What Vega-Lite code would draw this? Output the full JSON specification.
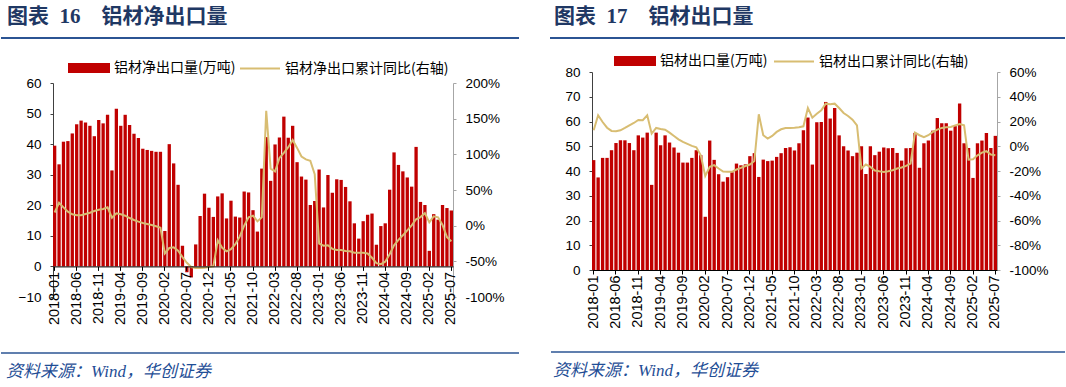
{
"$schema": "https://vega.github.io/schema/vega-lite/v6.json",
"padding": {"left": 0, "top": 6, "right": 0, "bottom": 0},
"autosize": {"type": "pad"},
"spacing": 29,
"resolve": {"scale": {"color": "independent"}, "legend": {"color": "independent"}},
"config": {
  "view": {"stroke": null},
  "font": "Liberation Sans",
  "legend": {"labelLimit": 400}
},
"datasets": {
"net": [
{"m":"2018-01","v":39.5,"yoy":18.5},{"m":"2018-02","v":33.4,"yoy":32},{"m":"2018-03","v":40.8,"yoy":25.7},{"m":"2018-04","v":41.0,"yoy":19.6},{"m":"2018-05","v":43.5,"yoy":15.9},{"m":"2018-06","v":46.5,"yoy":14.5},{"m":"2018-07","v":47.7,"yoy":14.5},{"m":"2018-08","v":47.1,"yoy":16.4},{"m":"2018-09","v":46.0,"yoy":18.2},{"m":"2018-10","v":42.6,"yoy":20.6},{"m":"2018-11","v":47.9,"yoy":22.4},{"m":"2018-12","v":46.8,"yoy":23.4},
{"m":"2019-01","v":49.6,"yoy":25.7},{"m":"2019-02","v":31.4,"yoy":11.2},{"m":"2019-03","v":51.6,"yoy":17.3},{"m":"2019-04","v":46.0,"yoy":15.9},{"m":"2019-05","v":49.6,"yoy":14.0},{"m":"2019-06","v":46.3,"yoy":10.7},{"m":"2019-07","v":43.4,"yoy":7.9},{"m":"2019-08","v":42.0,"yoy":5.6},{"m":"2019-09","v":38.5,"yoy":3.7},{"m":"2019-10","v":38.1,"yoy":2.3},{"m":"2019-11","v":37.8,"yoy":0.9},{"m":"2019-12","v":37.5,"yoy":-0.9},
{"m":"2020-01","v":37.5,"yoy":-2.8},{"m":"2020-02","v":11.6,"yoy":-38.8},{"m":"2020-03","v":40.0,"yoy":-31.3},{"m":"2020-04","v":33.7,"yoy":-30.4},{"m":"2020-05","v":26.7,"yoy":-35},{"m":"2020-06","v":6.8,"yoy":-44},{"m":"2020-07","v":-1.9,"yoy":-52},{"m":"2020-08","v":-3.6,"yoy":-58},{"m":"2020-09","v":7.2,"yoy":-59.5},{"m":"2020-10","v":16.5,"yoy":-59.5},{"m":"2020-11","v":23.8,"yoy":-59},{"m":"2020-12","v":19.2,"yoy":-58},
{"m":"2021-01","v":16.2,"yoy":-57},{"m":"2021-02","v":22.9,"yoy":-20.6},{"m":"2021-03","v":23.9,"yoy":-31},{"m":"2021-04","v":15.7,"yoy":-36},{"m":"2021-05","v":21.5,"yoy":-33},{"m":"2021-06","v":16.3,"yoy":-26},{"m":"2021-07","v":16.0,"yoy":-15},{"m":"2021-08","v":24.5,"yoy":0},{"m":"2021-09","v":24.2,"yoy":11.7},{"m":"2021-10","v":18.4,"yoy":14},{"m":"2021-11","v":11.4,"yoy":6},{"m":"2021-12","v":32.0,"yoy":11.7},
{"m":"2022-01","v":42.3,"yoy":161},{"m":"2022-02","v":28.0,"yoy":80},{"m":"2022-03","v":39.9,"yoy":76},{"m":"2022-04","v":42.2,"yoy":95},{"m":"2022-05","v":49.0,"yoy":102},{"m":"2022-06","v":42.1,"yoy":110},{"m":"2022-07","v":46.0,"yoy":120},{"m":"2022-08","v":34.1,"yoy":109},{"m":"2022-09","v":29.4,"yoy":97},{"m":"2022-10","v":28.4,"yoy":93},{"m":"2022-11","v":20.1,"yoy":91},{"m":"2022-12","v":21.4,"yoy":72},
{"m":"2023-01","v":31.7,"yoy":-25},{"m":"2023-02","v":19.3,"yoy":-28},{"m":"2023-03","v":29.9,"yoy":-27.5},{"m":"2023-04","v":24.1,"yoy":-32.5},{"m":"2023-05","v":28.5,"yoy":-34},{"m":"2023-06","v":28.3,"yoy":-34},{"m":"2023-07","v":26.0,"yoy":-35.5},{"m":"2023-08","v":21.3,"yoy":-36},{"m":"2023-09","v":14.1,"yoy":-38},{"m":"2023-10","v":9.1,"yoy":-38},{"m":"2023-11","v":14.8,"yoy":-38},{"m":"2023-12","v":16.9,"yoy":-39},
{"m":"2024-01","v":17.3,"yoy":-45},{"m":"2024-02","v":7.1,"yoy":-52.5},{"m":"2024-03","v":13.2,"yoy":-54},{"m":"2024-04","v":14.1,"yoy":-50.5},{"m":"2024-05","v":25.1,"yoy":-40},{"m":"2024-06","v":37.3,"yoy":-27.5},{"m":"2024-07","v":33.2,"yoy":-20},{"m":"2024-08","v":31.1,"yoy":-13.5},{"m":"2024-09","v":29.1,"yoy":-6.5},{"m":"2024-10","v":26.1,"yoy":0.5},{"m":"2024-11","v":39.1,"yoy":9},{"m":"2024-12","v":21.1,"yoy":12},
{"m":"2025-01","v":20.1,"yoy":17.5},{"m":"2025-02","v":5.1,"yoy":4.7},{"m":"2025-03","v":17.1,"yoy":13},{"m":"2025-04","v":15.3,"yoy":11.7},{"m":"2025-05","v":20.1,"yoy":1},{"m":"2025-06","v":19.1,"yoy":-16},{"m":"2025-07","v":18.3,"yoy":-22}
],
"exp": [
{"m":"2018-01","v":44.4,"yoy":12.9},{"m":"2018-02","v":37.4,"yoy":25},{"m":"2018-03","v":45.3,"yoy":19.6},{"m":"2018-04","v":45.3,"yoy":15},{"m":"2018-05","v":48.4,"yoy":12.4},{"m":"2018-06","v":51.3,"yoy":12.1},{"m":"2018-07","v":52.4,"yoy":12.9},{"m":"2018-08","v":52.4,"yoy":14.8},{"m":"2018-09","v":51.3,"yoy":16.9},{"m":"2018-10","v":48.4,"yoy":18.8},{"m":"2018-11","v":54.4,"yoy":21.2},{"m":"2018-12","v":53.5,"yoy":21},
{"m":"2019-01","v":55.5,"yoy":25},{"m":"2019-02","v":34.4,"yoy":10.2},{"m":"2019-03","v":55.5,"yoy":14.8},{"m":"2019-04","v":50.4,"yoy":14},{"m":"2019-05","v":54.4,"yoy":13.4},{"m":"2019-06","v":51.5,"yoy":11},{"m":"2019-07","v":49.5,"yoy":8.3},{"m":"2019-08","v":47.4,"yoy":5.6},{"m":"2019-09","v":43.4,"yoy":3.5},{"m":"2019-10","v":43.4,"yoy":1.9},{"m":"2019-11","v":45.3,"yoy":0.3},{"m":"2019-12","v":48.4,"yoy":-0.8},
{"m":"2020-01","v":46.4,"yoy":-7.3},{"m":"2020-02","v":21.5,"yoy":-24},{"m":"2020-03","v":52.3,"yoy":-16.7},{"m":"2020-04","v":44.5,"yoy":-15.3},{"m":"2020-05","v":38.7,"yoy":-18},{"m":"2020-06","v":35.7,"yoy":-20.5},{"m":"2020-07","v":37.5,"yoy":-20.7},{"m":"2020-08","v":39.5,"yoy":-20.7},{"m":"2020-09","v":43.0,"yoy":-18.8},{"m":"2020-10","v":42.3,"yoy":-17.5},{"m":"2020-11","v":42.7,"yoy":-16},{"m":"2020-12","v":46.0,"yoy":-14.8},
{"m":"2021-01","v":47.2,"yoy":-12},{"m":"2021-02","v":37.6,"yoy":25.8},{"m":"2021-03","v":44.6,"yoy":8.9},{"m":"2021-04","v":44.0,"yoy":6.2},{"m":"2021-05","v":44.2,"yoy":8.3},{"m":"2021-06","v":45.7,"yoy":11.6},{"m":"2021-07","v":47.2,"yoy":13.7},{"m":"2021-08","v":49.3,"yoy":14.8},{"m":"2021-09","v":49.6,"yoy":14.8},{"m":"2021-10","v":48.3,"yoy":15},{"m":"2021-11","v":51.2,"yoy":15.3},{"m":"2021-12","v":56.5,"yoy":16.1},
{"m":"2022-01","v":61.6,"yoy":30.9},{"m":"2022-02","v":42.6,"yoy":23.1},{"m":"2022-03","v":59.7,"yoy":26.3},{"m":"2022-04","v":59.8,"yoy":29},{"m":"2022-05","v":67.9,"yoy":34.4},{"m":"2022-06","v":61.2,"yoy":33.9},{"m":"2022-07","v":65.5,"yoy":34.4},{"m":"2022-08","v":54.4,"yoy":30.9},{"m":"2022-09","v":50.0,"yoy":26.9},{"m":"2022-10","v":48.3,"yoy":24.5},{"m":"2022-11","v":46.0,"yoy":21.5},{"m":"2022-12","v":47.4,"yoy":16.9},
{"m":"2023-01","v":50.0,"yoy":-18},{"m":"2023-02","v":38.8,"yoy":-14.8},{"m":"2023-03","v":50.0,"yoy":-16.7},{"m":"2023-04","v":46.4,"yoy":-19.6},{"m":"2023-05","v":47.8,"yoy":-20.2},{"m":"2023-06","v":49.5,"yoy":-20.7},{"m":"2023-07","v":49.2,"yoy":-20.2},{"m":"2023-08","v":49.3,"yoy":-19.4},{"m":"2023-09","v":47.3,"yoy":-18},{"m":"2023-10","v":44.2,"yoy":-17.2},{"m":"2023-11","v":49.2,"yoy":-15.9},{"m":"2023-12","v":49.3,"yoy":-14},
{"m":"2024-01","v":55.4,"yoy":11},{"m":"2024-02","v":41.3,"yoy":8.9},{"m":"2024-03","v":51.2,"yoy":7.3},{"m":"2024-04","v":52.3,"yoy":8.9},{"m":"2024-05","v":56.3,"yoy":11.6},{"m":"2024-06","v":61.4,"yoy":13.4},{"m":"2024-07","v":59.3,"yoy":14.8},{"m":"2024-08","v":59.3,"yoy":15.3},{"m":"2024-09","v":56.3,"yoy":15.6},{"m":"2024-10","v":58.1,"yoy":16.9},{"m":"2024-11","v":67.3,"yoy":18},{"m":"2024-12","v":51.2,"yoy":16.9},
{"m":"2025-01","v":49.3,"yoy":-10.8},{"m":"2025-02","v":37.2,"yoy":-10.5},{"m":"2025-03","v":51.2,"yoy":-7.3},{"m":"2025-04","v":52.3,"yoy":-5.1},{"m":"2025-05","v":55.4,"yoy":-4},{"m":"2025-06","v":49.3,"yoy":-6.7},{"m":"2025-07","v":54.2,"yoy":-7.3}
]
},
"hconcat": [
{
  "spacing": 8,
  "resolve": {"scale": {"color": "independent"}, "legend": {"color": "independent"}},
  "vconcat": [
    {
      "width": 400, "height": 1,
      "title": {"text": "图表\u00a0\u00a016\u3000铝材净出口量", "frame": "group", "anchor": "start", "dx": -46, "offset": 10, "fontSize": 21, "font": "Liberation Serif, Noto Sans CJK SC", "fontWeight": "bold", "color": "#1F3864"},
      "data": {"values": [{}]},
      "mark": {"type": "rule", "color": "#2B5493", "strokeWidth": 2},
      "encoding": {
        "x": {"datum": -52, "type": "quantitative", "scale": {"domain": [0, 400], "nice": false}, "axis": null},
        "x2": {"datum": 466},
        "y": {"datum": 0, "type": "quantitative", "scale": {"domain": [0, 1]}, "axis": null}
      }
    },
    {
      "width": 400, "height": 214,
      "data": {"name": "net"},
      "resolve": {"scale": {"y": "independent"}},
      "layer": [
        {
          "mark": {"type": "bar"},
          "encoding": {
            "x": {"field": "m", "type": "ordinal", "scale": {"paddingInner": 0.25, "paddingOuter": 0},
              "axis": {"values": ["2018-01","2018-06","2018-11","2019-04","2019-09","2020-02","2020-07","2020-12","2021-05","2021-10","2022-03","2022-08","2023-01","2023-06","2023-11","2024-04","2024-09","2025-02","2025-07"],
                "title": null, "labelAngle": 270, "labelFontSize": 14.5, "labelFont": "Liberation Sans", "labelColor": "#000", "offset": -30.6, "domainColor": "#000", "tickColor": "#000", "tickSize": 4, "labelPadding": 1, "bandPosition": 0.5, "zindex": 1, "labelOverlap": false}},
            "y": {"field": "v", "type": "quantitative", "scale": {"domain": [-10, 60], "nice": false},
              "axis": {"title": null, "values": [-10,0,10,20,30,40,50,60], "labelFontSize": 13.5, "labelFont": "Liberation Sans", "labelColor": "#000", "domainColor": "#404040", "tickColor": "#404040", "tickSize": 3, "labelPadding": 9, "grid": false}},
            "color": {"datum": "铝材净出口量(万吨)",
              "scale": {"domain": ["铝材净出口量(万吨)", "铝材净出口累计同比(右轴)"], "range": ["#C00000", "#D8BD72"]},
              "legend": {"title": null, "orient": "none", "legendX": 15, "legendY": -36, "direction": "horizontal",
                "labelFont": "Noto Sans CJK SC", "labelFontSize": 14, "labelColor": "#000", "labelOffset": 4, "columnPadding": 0, "labelLimit": 400,
                "symbolSize": 1600, "symbolType": "M-1,-0.2H1V0.2H-1Z",
                "encode": {"symbols": {"update": {
                  "shape": {"signal": "indexof(datum.value, '累计') < 0 ? 'M-1,-0.2H1V0.2H-1Z' : 'M-1,0H1'"},
                  "fill": {"signal": "indexof(datum.value, '累计') < 0 ? '#C00000' : 'transparent'"},
                  "stroke": {"signal": "indexof(datum.value, '累计') < 0 ? 'transparent' : '#D8BD72'"},
                  "strokeWidth": {"value": 2},
                  "opacity": {"value": 1}
                }}}}}
          }
        },
        {
          "mark": {"type": "line", "strokeWidth": 2},
          "encoding": {
            "x": {"field": "m", "type": "ordinal"},
            "y": {"field": "yoy", "type": "quantitative", "scale": {"domain": [-100, 200], "nice": false},
              "axis": {"orient": "right", "title": null, "values": [-100,-50,0,50,100,150,200], "labelExpr": "datum.value + '%'", "labelFontSize": 13.5, "labelFont": "Liberation Sans", "labelColor": "#000", "domainColor": "#A6A6A6", "tickColor": "#A6A6A6", "tickSize": 3, "labelPadding": 9, "grid": false}},
            "color": {"datum": "铝材净出口累计同比(右轴)"}
          }
        }
      ]
    },
    {
      "width": 400, "height": 20,
      "title": {"text": "资料来源：Wind，华创证券", "frame": "group", "orient": "bottom", "anchor": "start", "dx": -47, "offset": 10, "fontSize": 17, "font": "Liberation Serif, Noto Sans CJK SC", "fontStyle": "italic", "fontWeight": "normal", "color": "#1F4E96"},
      "data": {"values": [{}]},
      "mark": {"type": "rule", "color": "#2B5493", "strokeWidth": 1.5},
      "encoding": {
        "x": {"datum": -52, "type": "quantitative", "scale": {"domain": [0, 400], "nice": false}, "axis": null},
        "x2": {"datum": 466},
        "y": {"datum": 0, "type": "quantitative", "scale": {"domain": [0, 1]}, "axis": null}
      }
    }
  ]
},
{
  "spacing": 1,
  "resolve": {"scale": {"color": "independent"}, "legend": {"color": "independent"}},
  "vconcat": [
    {
      "width": 405, "height": 1,
      "title": {"text": "图表\u00a0\u00a017\u3000铝材出口量", "frame": "group", "anchor": "start", "dx": -38, "offset": 10, "fontSize": 21, "font": "Liberation Serif, Noto Sans CJK SC", "fontWeight": "bold", "color": "#1F3864"},
      "data": {"values": [{}]},
      "mark": {"type": "rule", "color": "#2B5493", "strokeWidth": 2},
      "encoding": {
        "x": {"datum": -42, "type": "quantitative", "scale": {"domain": [0, 405], "nice": false}, "axis": null},
        "x2": {"datum": 473},
        "y": {"datum": 0, "type": "quantitative", "scale": {"domain": [0, 1]}, "axis": null}
      }
    },
    {
      "width": 405, "height": 198,
      "data": {"name": "exp"},
      "resolve": {"scale": {"y": "independent"}},
      "layer": [
        {
          "mark": {"type": "bar"},
          "encoding": {
            "x": {"field": "m", "type": "ordinal", "scale": {"paddingInner": 0.25, "paddingOuter": 0},
              "axis": {"values": ["2018-01","2018-06","2018-11","2019-04","2019-09","2020-02","2020-07","2020-12","2021-05","2021-10","2022-03","2022-08","2023-01","2023-06","2023-11","2024-04","2024-09","2025-02","2025-07"],
                "title": null, "labelAngle": 270, "labelFontSize": 14.5, "labelFont": "Liberation Sans", "labelColor": "#000", "domainColor": "#000", "tickColor": "#000", "tickSize": 4, "labelPadding": 1, "bandPosition": 0.5, "zindex": 1, "labelOverlap": false}},
            "y": {"field": "v", "type": "quantitative", "scale": {"domain": [0, 80], "nice": false},
              "axis": {"title": null, "values": [0,10,20,30,40,50,60,70,80], "labelFontSize": 13.5, "labelFont": "Liberation Sans", "labelColor": "#000", "domainColor": "#404040", "tickColor": "#404040", "tickSize": 3, "labelPadding": 9, "grid": false}},
            "color": {"datum": "铝材出口量(万吨)",
              "scale": {"domain": ["铝材出口量(万吨)", "铝材出口累计同比(右轴)"], "range": ["#C00000", "#D8BD72"]},
              "legend": {"title": null, "orient": "none", "legendX": 22, "legendY": -32, "direction": "horizontal",
                "labelFont": "Noto Sans CJK SC", "labelFontSize": 14, "labelColor": "#000", "labelOffset": 4, "columnPadding": 2, "labelLimit": 400,
                "symbolSize": 1600, "symbolType": "M-1,-0.2H1V0.2H-1Z",
                "encode": {"symbols": {"update": {
                  "shape": {"signal": "indexof(datum.value, '累计') < 0 ? 'M-1,-0.2H1V0.2H-1Z' : 'M-1,0H1'"},
                  "fill": {"signal": "indexof(datum.value, '累计') < 0 ? '#C00000' : 'transparent'"},
                  "stroke": {"signal": "indexof(datum.value, '累计') < 0 ? 'transparent' : '#D8BD72'"},
                  "strokeWidth": {"value": 2},
                  "opacity": {"value": 1}
                }}}}}
          }
        },
        {
          "mark": {"type": "line", "strokeWidth": 2},
          "encoding": {
            "x": {"field": "m", "type": "ordinal"},
            "y": {"field": "yoy", "type": "quantitative", "scale": {"domain": [-100, 60], "nice": false},
              "axis": {"orient": "right", "title": null, "values": [-100,-80,-60,-40,-20,0,20,40,60], "labelExpr": "datum.value + '%'", "labelFontSize": 13.5, "labelFont": "Liberation Sans", "labelColor": "#000", "domainColor": "#A6A6A6", "tickColor": "#A6A6A6", "tickSize": 3, "labelPadding": 9, "grid": false}},
            "color": {"datum": "铝材出口累计同比(右轴)"}
          }
        }
      ]
    },
    {
      "width": 405, "height": 22,
      "title": {"text": "资料来源：Wind，华创证券", "frame": "group", "orient": "bottom", "anchor": "start", "dx": -39, "offset": 10, "fontSize": 17, "font": "Liberation Serif, Noto Sans CJK SC", "fontStyle": "italic", "fontWeight": "normal", "color": "#1F4E96"},
      "data": {"values": [{}]},
      "mark": {"type": "rule", "color": "#2B5493", "strokeWidth": 1.5},
      "encoding": {
        "x": {"datum": -41, "type": "quantitative", "scale": {"domain": [0, 405], "nice": false}, "axis": null},
        "x2": {"datum": 473},
        "y": {"datum": 0, "type": "quantitative", "scale": {"domain": [0, 1]}, "axis": null}
      }
    }
  ]
}
]
}
